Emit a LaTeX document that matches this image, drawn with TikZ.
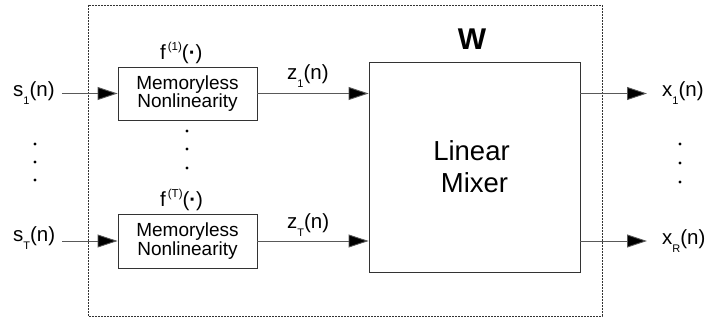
\documentclass[tikz,border=0pt]{standalone}
\usepackage{fontspec}
\setmainfont{Liberation Sans}
\usetikzlibrary{arrows.meta}
\newcommand{\lo}[1]{\raisebox{-8pt}{\fontsize{11}{11}\selectfont #1}}
\newcommand{\hi}[1]{\raisebox{9pt}{\fontsize{11.5}{11.5}\selectfont #1}}
\begin{document}
\begin{tikzpicture}[x=1pt,y=-1pt,
  blk/.style={draw=black!80,line width=0.9pt,inner sep=0pt},
  lbl/.style={inner sep=0pt,anchor=base west,font=\fontsize{20.5}{20.5}\selectfont},
  arr/.style={draw=black!65,line width=0.9pt,-{Triangle[length=20pt,width=13pt,fill=black]}},
  dotc/.style={fill=black}]
\useasboundingbox (0,0) rectangle (710,320);
\draw[black!80,line width=0.8pt,dash pattern=on 1.6pt off 1.4pt] (88,5) rectangle (602,316);
\node[blk,minimum width=139pt,minimum height=53pt,align=center,font=\fontsize{19}{17.5}\selectfont] (m1) at (187.5,93.5) {Memoryless\\Nonlinearity};
\node[blk,minimum width=139pt,minimum height=54pt,align=center,font=\fontsize{19}{17.5}\selectfont] (m2) at (187.5,241) {Memoryless\\Nonlinearity};
\node[blk,minimum width=211pt,minimum height=210pt,align=center,font=\fontsize{27.5}{32}\selectfont] (lm) at (474.5,167) {Linear\hspace*{6pt}\\Mixer};
\node[inner sep=0pt,anchor=base,font=\fontsize{30}{30}\selectfont\bfseries] (w) at (472,50) {W};
\node[lbl] (s1) at (13,97) {s\lo{1}(n)};
\node[lbl] (sT) at (13,242) {s\lo{T}(n)};
\node[lbl] (f1) at (160,60) {f\hspace{2pt}\hi{(1)}({\bfseries ·})};
\node[lbl] (fT) at (160,207) {f\hspace{2pt}\hi{(T)}({\bfseries ·})};
\node[lbl] (z1) at (287,80) {z\lo{1}(n)};
\node[lbl] (zT) at (287,229) {z\lo{T}(n)};
\node[lbl] (x1) at (662,97) {x\lo{1}(n)};
\node[lbl] (xR) at (662,245) {x\lo{R}(n)};
\draw[arr] ([xshift=7pt]s1.east |- m1.west) -- (m1.west);
\draw[arr] ([xshift=7pt]sT.east |- m2.west) -- (m2.west);
\draw[arr] (m1.east) -- (lm.west |- m1.east);
\draw[arr] (m2.east) -- (lm.west |- m2.east);
\draw[arr] (lm.east |- m1.east) -- ([xshift=-15pt]x1.west |- m1.east);
\draw[arr] (lm.east |- m2.east) -- ([xshift=-15pt]xR.west |- m2.east);
\foreach \y in {144,162,180} \fill[dotc] (35,\y) circle (1.6pt);
\foreach \y in {131,149,168} \fill[dotc] (187,\y) circle (1.6pt);
\foreach \y in {144,163,182} \fill[dotc] (680,\y) circle (1.6pt);
\end{tikzpicture}
\end{document}
